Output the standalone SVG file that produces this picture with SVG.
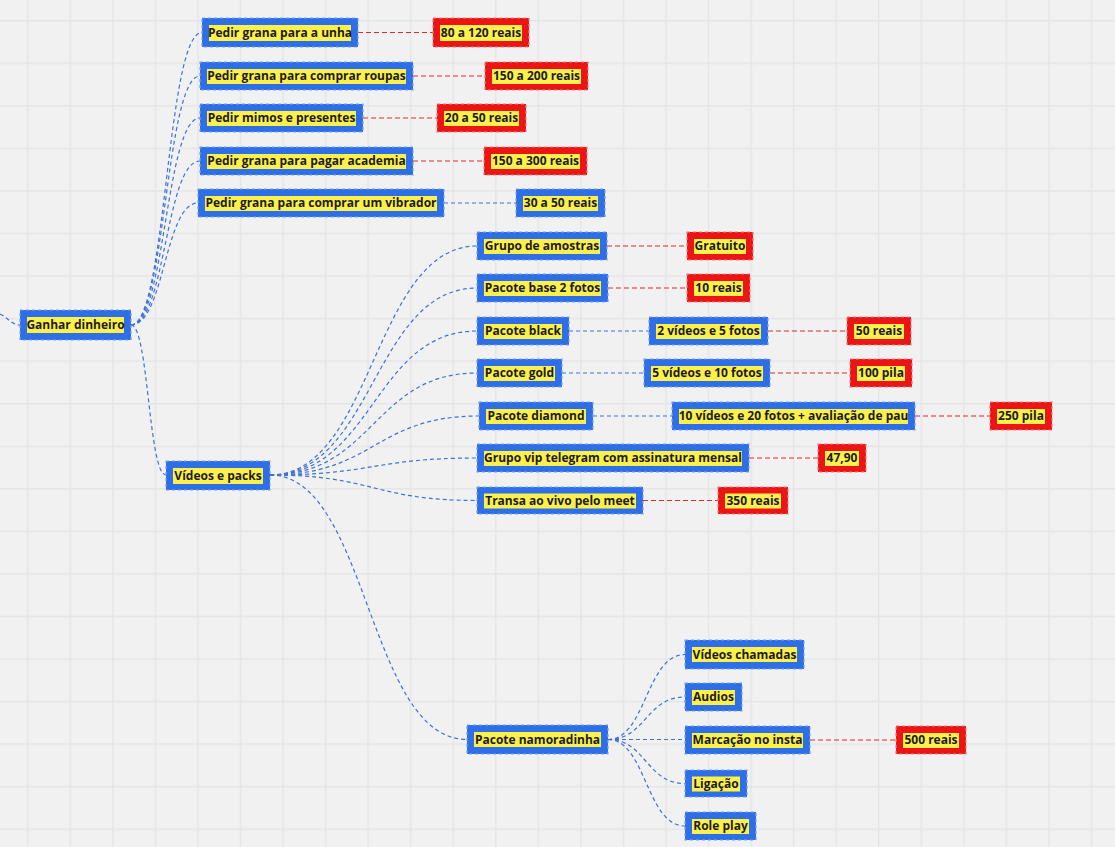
<svg xmlns="http://www.w3.org/2000/svg" width="1115" height="847" viewBox="0 0 1115 847">
  <style>
    .box-b { fill: #2e6ee6; stroke: #78a2f2; stroke-width: 1.2; stroke-dasharray: 3 3; }
    .box-r { fill: #ec1515; stroke: #f47a7a; stroke-width: 1.2; stroke-dasharray: 3 3; }
    .hl { fill: #fcf04c; }
    text { font-family: "Open Sans", "Noto Sans", "Liberation Sans", sans-serif; font-weight: 700; font-size: 12px; fill: #1c1c1c; text-anchor: middle; }
    .lb { fill: none; stroke: #3d72d9; stroke-width: 1.2; stroke-dasharray: 4 3; }
    .lr { fill: none; stroke: #e0282d; stroke-width: 1.2; stroke-dasharray: 5 3; }
  </style>
  <defs>
    <pattern id="grid" patternUnits="userSpaceOnUse" x="27" y="20" width="42.55" height="42.55">
      <path d="M0.75 0 V42.55 M0 0.75 H42.55" stroke="#e5e5e5" stroke-width="1.4" fill="none"/>
    </pattern>
  </defs>

  <!-- canvas -->
  <rect width="1115" height="847" fill="#f1f1f1"/>
  <rect x="-1" y="-1" width="1117" height="849" fill="url(#grid)"/>

  <!-- connectors -->
  <g id="connectors">
    <path class="lb" d="M0,314 C8,318 12,325 20,325"/>
    <!-- Ganhar dinheiro branches -->
    <path class="lb" d="M131,325 C166.5,325 166.5,32.5 202,32.5"/>
    <path class="lb" d="M131,325 C165.5,325 165.5,76 200,76"/>
    <path class="lb" d="M131,325 C165.5,325 165.5,118 200,118"/>
    <path class="lb" d="M131,325 C165.5,325 165.5,161 200,161"/>
    <path class="lb" d="M131,325 C164.5,325 164.5,203 198,203"/>
    <path class="lb" d="M131,325 C148.5,325 148.5,475 166,475"/>
    <!-- price links, top group -->
    <path class="lr" d="M358,32.5 H433"/>
    <path class="lr" d="M413,76 H485"/>
    <path class="lr" d="M363,118 H437"/>
    <path class="lr" d="M413,161 H484"/>
    <path class="lb" d="M444,203 H516"/>
    <!-- Vídeos e packs branches -->
    <path class="lb" d="M270,475 C373.5,475 373.5,246 477,246"/>
    <path class="lb" d="M270,475 C373.5,475 373.5,288 477,288"/>
    <path class="lb" d="M270,475 C373.5,475 373.5,331 477,331"/>
    <path class="lb" d="M270,475 C373.5,475 373.5,373 477,373"/>
    <path class="lb" d="M270,475 C374.5,475 374.5,416 479,416"/>
    <path class="lb" d="M270,475 C373.5,475 373.5,458 477,458"/>
    <path class="lb" d="M270,475 C373.5,475 373.5,500.5 477,500.5"/>
    <path class="lb" d="M270,475 C368,475 368,739.5 467,739.5"/>
    <!-- pack details -->
    <path class="lr" d="M607,246 H687"/>
    <path class="lr" d="M608,288 H687"/>
    <path class="lb" d="M569,331 H649"/>
    <path class="lr" d="M768,331 H847"/>
    <path class="lb" d="M562,373 H644"/>
    <path class="lr" d="M770,373 H850"/>
    <path class="lb" d="M593,416 H672"/>
    <path class="lr" d="M915,416 H990"/>
    <path class="lr" d="M749,458 H818"/>
    <path class="lr" d="M643,500.5 H718"/>
    <!-- Pacote namoradinha branches -->
    <path class="lb" d="M608,739.5 C646,739.5 646,654.5 685,654.5"/>
    <path class="lb" d="M608,739.5 C646,739.5 646,697 685,697"/>
    <path class="lb" d="M608,739.5 H685"/>
    <path class="lb" d="M608,739.5 C646,739.5 646,783.5 685,783.5"/>
    <path class="lb" d="M608,739.5 C646,739.5 646,826 685,826"/>
    <path class="lr" d="M810,740 H896"/>
  </g>

  <!-- root -->
  <g id="ganhar-dinheiro"><rect class="box-b" x="20" y="310" width="111" height="30"/><rect class="hl" x="27" y="317" width="97" height="16"/><text x="75.5" y="329.3">Ganhar dinheiro</text></g>

  <!-- top branch -->
  <g id="pedir-unha"><rect class="box-b" x="202" y="18" width="156" height="29"/><rect class="hl" x="209" y="25" width="142" height="16"/><text x="280" y="37">Pedir grana para a unha</text></g>
  <g id="preco-unha"><rect class="box-r" x="433" y="18" width="96" height="29"/><rect class="hl" x="440" y="25" width="82" height="16"/><text x="481" y="37">80 a 120 reais</text></g>

  <g id="pedir-roupas"><rect class="box-b" x="200" y="62" width="213" height="28"/><rect class="hl" x="207" y="69" width="199" height="15"/><text x="306.5" y="80.3">Pedir grana para comprar roupas</text></g>
  <g id="preco-roupas"><rect class="box-r" x="485" y="62" width="103" height="28"/><rect class="hl" x="492" y="69" width="89" height="15"/><text x="536.5" y="80.3">150 a 200 reais</text></g>

  <g id="pedir-mimos"><rect class="box-b" x="200" y="104" width="163" height="28"/><rect class="hl" x="207" y="111" width="149" height="15"/><text x="281.5" y="122.3">Pedir mimos e presentes</text></g>
  <g id="preco-mimos"><rect class="box-r" x="437" y="104" width="89" height="28"/><rect class="hl" x="444" y="111" width="75" height="15"/><text x="481.5" y="122.3">20 a 50 reais</text></g>

  <g id="pedir-academia"><rect class="box-b" x="200" y="147" width="213" height="28"/><rect class="hl" x="207" y="154" width="199" height="15"/><text x="306.5" y="165.3">Pedir grana para pagar academia</text></g>
  <g id="preco-academia"><rect class="box-r" x="484" y="147" width="103" height="28"/><rect class="hl" x="491" y="154" width="89" height="15"/><text x="535.5" y="165.3">150 a 300 reais</text></g>

  <g id="pedir-vibrador"><rect class="box-b" x="198" y="189" width="246" height="28"/><rect class="hl" x="205" y="196" width="232" height="15"/><text x="321" y="207.3">Pedir grana para comprar um vibrador</text></g>
  <g id="preco-vibrador"><rect class="box-b" x="516" y="189" width="89" height="28"/><rect class="hl" x="523" y="196" width="75" height="15"/><text x="560.5" y="207.3">30 a 50 reais</text></g>

  <!-- packs branch -->
  <g id="videos-packs"><rect class="box-b" x="166" y="461" width="104" height="29"/><rect class="hl" x="173" y="468" width="90" height="16"/><text x="218" y="479.5">Vídeos e packs</text></g>

  <g id="grupo-amostras"><rect class="box-b" x="477" y="232" width="130" height="28"/><rect class="hl" x="484" y="239" width="116" height="15"/><text x="542" y="250.3">Grupo de amostras</text></g>
  <g id="preco-amostras"><rect class="box-r" x="687" y="232" width="66" height="28"/><rect class="hl" x="694" y="239" width="52" height="15"/><text x="720" y="250.3">Gratuito</text></g>

  <g id="pacote-base"><rect class="box-b" x="477" y="274" width="131" height="28"/><rect class="hl" x="484" y="281" width="117" height="15"/><text x="542.5" y="292.3">Pacote base 2 fotos</text></g>
  <g id="preco-base"><rect class="box-r" x="687" y="274" width="63" height="28"/><rect class="hl" x="694" y="281" width="49" height="15"/><text x="718.5" y="292.3">10 reais</text></g>

  <g id="pacote-black"><rect class="box-b" x="477" y="317" width="92" height="28"/><rect class="hl" x="484" y="324" width="78" height="15"/><text x="523" y="335.3">Pacote black</text></g>
  <g id="conteudo-black"><rect class="box-b" x="649" y="317" width="119" height="28"/><rect class="hl" x="656" y="324" width="105" height="15"/><text x="708.5" y="335.3">2 vídeos e 5 fotos</text></g>
  <g id="preco-black"><rect class="box-r" x="847" y="317" width="64" height="28"/><rect class="hl" x="854" y="324" width="50" height="15"/><text x="879" y="335.3">50 reais</text></g>

  <g id="pacote-gold"><rect class="box-b" x="477" y="359" width="85" height="28"/><rect class="hl" x="484" y="366" width="71" height="15"/><text x="519.5" y="377.3">Pacote gold</text></g>
  <g id="conteudo-gold"><rect class="box-b" x="644" y="359" width="126" height="28"/><rect class="hl" x="651" y="366" width="112" height="15"/><text x="707" y="377.3">5 vídeos e 10 fotos</text></g>
  <g id="preco-gold"><rect class="box-r" x="850" y="359" width="62" height="28"/><rect class="hl" x="857" y="366" width="48" height="15"/><text x="881" y="377.3">100 pila</text></g>

  <g id="pacote-diamond"><rect class="box-b" x="479" y="402" width="114" height="28"/><rect class="hl" x="486" y="409" width="100" height="15"/><text x="536" y="420.3">Pacote diamond</text></g>
  <g id="conteudo-diamond"><rect class="box-b" x="672" y="402" width="243" height="28"/><rect class="hl" x="679" y="409" width="229" height="15"/><text x="793.5" y="420.3">10 vídeos e 20 fotos + avaliação de pau</text></g>
  <g id="preco-diamond"><rect class="box-r" x="990" y="402" width="62" height="28"/><rect class="hl" x="997" y="409" width="48" height="15"/><text x="1021" y="420.3">250 pila</text></g>

  <g id="grupo-vip"><rect class="box-b" x="477" y="444" width="272" height="28"/><rect class="hl" x="484" y="451" width="258" height="15"/><text x="613" y="462.3">Grupo vip telegram com assinatura mensal</text></g>
  <g id="preco-vip"><rect class="box-r" x="818" y="444" width="48" height="28"/><rect class="hl" x="825" y="451" width="34" height="15"/><text x="842" y="462.3">47,90</text></g>

  <g id="transa-meet"><rect class="box-b" x="477" y="487" width="166" height="27"/><rect class="hl" x="484" y="493.5" width="152" height="15"/><text x="560" y="504.8">Transa ao vivo pelo meet</text></g>
  <g id="preco-meet"><rect class="box-r" x="718" y="487" width="70" height="27"/><rect class="hl" x="725" y="493.5" width="56" height="15"/><text x="753" y="504.8">350 reais</text></g>

  <!-- namoradinha branch -->
  <g id="pacote-namoradinha"><rect class="box-b" x="467" y="725" width="141" height="29"/><rect class="hl" x="474" y="732" width="127" height="15"/><text x="537.5" y="743.8">Pacote namoradinha</text></g>
  <g id="videos-chamadas"><rect class="box-b" x="685" y="640" width="119" height="29"/><rect class="hl" x="692" y="647" width="105" height="15"/><text x="744.5" y="658.8">Vídeos chamadas</text></g>
  <g id="audios"><rect class="box-b" x="685" y="683" width="57" height="28"/><rect class="hl" x="692" y="690" width="43" height="15"/><text x="713.5" y="701.3">Audios</text></g>
  <g id="marcacao-insta"><rect class="box-b" x="685" y="726" width="125" height="28"/><rect class="hl" x="692" y="733" width="111" height="15"/><text x="747.5" y="744.3">Marcação no insta</text></g>
  <g id="preco-marcacao"><rect class="box-r" x="896" y="726" width="70" height="28"/><rect class="hl" x="903" y="733" width="56" height="15"/><text x="931" y="744.3">500 reais</text></g>
  <g id="ligacao"><rect class="box-b" x="685" y="770" width="62" height="27"/><rect class="hl" x="692" y="776.5" width="48" height="15"/><text x="716" y="787.8">Ligação</text></g>
  <g id="role-play"><rect class="box-b" x="685" y="812" width="71" height="28"/><rect class="hl" x="692" y="819" width="57" height="15"/><text x="720.5" y="830.3">Role play</text></g>
</svg>
